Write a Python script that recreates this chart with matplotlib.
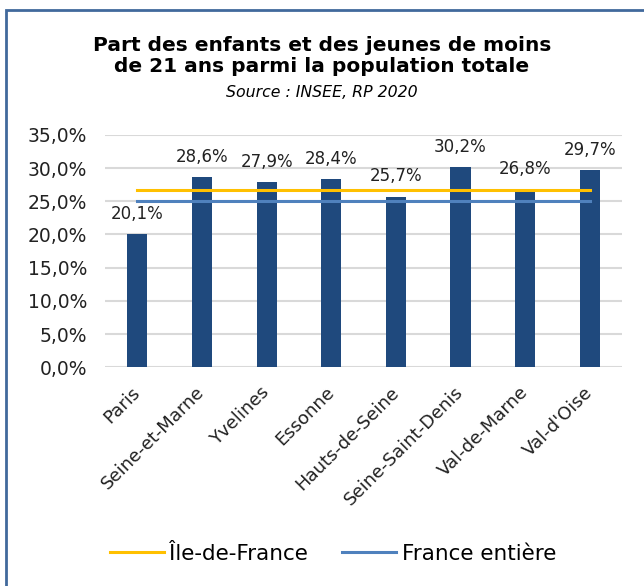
import matplotlib
matplotlib.use("Agg")
from matplotlib import pyplot as plt
from matplotlib.patches import Rectangle

departements = ["Paris", "Seine-et-Marne", "Yvelines", "Essonne",
                "Hauts-de-Seine", "Seine-Saint-Denis", "Val-de-Marne", "Val-d'Oise"]
part_jeunes = [20.1, 28.6, 27.9, 28.4, 25.7, 30.2, 26.8, 29.7]
idf = 26.7
france = 25.1
y_ticks = [0, 5, 10, 15, 20, 25, 30, 35]

def fmt(v):
    return f"{v:.1f}%".replace(".", ",")

fig = plt.figure(figsize=(6.44, 5.86), dpi=100)
ax = fig.add_axes([0.163, 0.373, 0.803, 0.397])

x = list(range(len(departements)))
ax.bar(x, part_jeunes, width=0.31, color="#1F497D", zorder=3)
ax.plot([x[0], x[-1]], [idf, idf], color="#FFC000", lw=2.2, zorder=4, label="Île-de-France")
ax.plot([x[0], x[-1]], [france, france], color="#4F81BD", lw=2.2, zorder=4, label="France entière")

for xi, v in zip(x, part_jeunes):
    ax.annotate(fmt(v), (xi, v), xytext=(0, 8), textcoords="offset points",
                ha="center", va="bottom", fontsize=12, color="#222222")

ax.set_xlim(-0.5, len(departements) - 0.5)
ax.set_ylim(0, 35)
ax.set_yticks(y_ticks)
ax.set_yticklabels([fmt(t) for t in y_ticks], fontsize=13.5, color="#222222")
ax.set_xticks(x)
ax.set_xticklabels(departements, rotation=45, ha="right", va="center",
                   rotation_mode="anchor", fontsize=13, color="#222222")
ax.tick_params(axis="y", length=0, pad=13)
ax.tick_params(axis="x", length=0, pad=16)
ax.grid(axis="y", color="#D9D9D9", lw=1.5, zorder=0)
for s in ax.spines.values():
    s.set_visible(False)

fig.text(0.5, 0.904, "Part des enfants et des jeunes de moins\nde 21 ans parmi la population totale",
         ha="center", va="center", fontsize=14.5, fontweight="bold", linespacing=1.15)
fig.text(0.5, 0.843, "Source : INSEE, RP 2020", ha="center", va="center",
         fontsize=11.3, style="italic")

fig.legend(loc="center", bbox_to_anchor=(0.517, 0.055), ncol=2, frameon=False,
           fontsize=15.5, handlelength=2.5, handletextpad=0.25, columnspacing=1.6)

fig.patches.append(Rectangle((6 / 644, -0.1), 1.2, 1.1 - 10 / 586,
                             transform=fig.transFigure, fill=False,
                             edgecolor="#41699C", lw=2))

fig.savefig("out.png", dpi=100)
